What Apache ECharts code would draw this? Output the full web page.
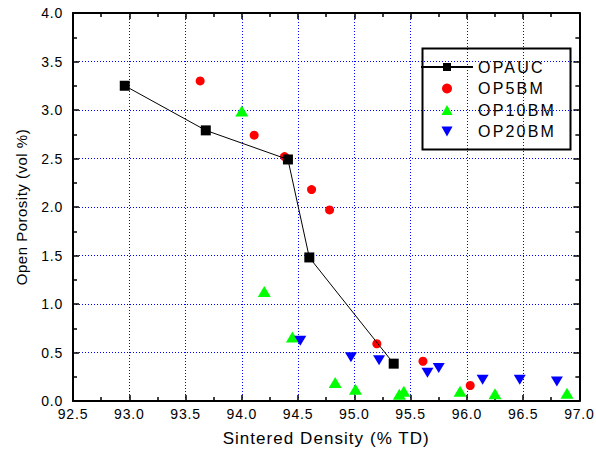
<!DOCTYPE html>
<html>
<head>
<meta charset="utf-8">
<script src="https://cdn.jsdelivr.net/npm/echarts@6/dist/echarts.min.js"></script>
<style>
  html, body { margin: 0; padding: 0; background: #fff; }
  #chart { width: 596px; height: 455px; }
  #chart text { letter-spacing: 0.8px; }
  #chart text[style*="15px"] { letter-spacing: 0.5px; }
  #chart text[style*="16px"] { letter-spacing: 2.2px; }
  #chart text[style*="17px"] { letter-spacing: 1.05px; }
</style>
</head>
<body>
<div id="chart"></div>
<script>
// ---- data ----
const xTicks = [92.5, 93.0, 93.5, 94.0, 94.5, 95.0, 95.5, 96.0, 96.5, 97.0];
const yTicks = [0.0, 0.5, 1.0, 1.5, 2.0, 2.5, 3.0, 3.5, 4.0];

const opaucX = [92.96, 93.68, 94.41, 94.60, 95.35];
const opaucY = [3.25, 2.79, 2.49, 1.48, 0.385];

const op5bmX = [93.63, 94.11, 94.38, 94.62, 94.78, 95.20, 95.61, 96.03];
const op5bmY = [3.30, 2.74, 2.52, 2.18, 1.97, 0.59, 0.41, 0.16];

const op10bmX = [94.00, 94.20, 94.45, 94.83, 95.01, 95.40, 95.44, 95.94, 96.25, 96.89];
const op10bmY = [2.99, 1.13, 0.66, 0.19, 0.12, 0.07, 0.10, 0.10, 0.075, 0.08];

const op20bmX = [94.52, 94.97, 95.22, 95.65, 95.75, 96.14, 96.47, 96.80];
const op20bmY = [0.62, 0.45, 0.42, 0.29, 0.34, 0.22, 0.22, 0.20];

const seriesNames = ['OPAUC', 'OP5BM', 'OP10BM', 'OP20BM'];

const pairs = (xs, ys) => xs.map((x, i) => [x, ys[i]]);

const FONT = 'Liberation Sans, Arial, sans-serif';
const TRI_UP = 'path://M5,0 L10,9 L0,9 Z';
const TRI_DOWN = 'path://M0,0 L10,0 L5,9 Z';
const chart = echarts.init(document.getElementById('chart'), null, { renderer: 'svg' });

const baseAxis = {
  axisLine: { show: true, onZero: false, lineStyle: { color: '#000', width: 2 } },
  axisTick: { show: true, inside: true, length: 6, lineStyle: { color: '#000', width: 1.5 } },
  minorTick: { show: true, splitNumber: 2, length: 4, lineStyle: { color: '#000', width: 1.5 } },
};

chart.setOption({
  animation: false,
  backgroundColor: '#fff',
  textStyle: { fontFamily: FONT },
  grid: { left: 73, right: 15, top: 13, bottom: 54 },
  xAxis: [
    Object.assign({}, baseAxis, {
      type: 'value', position: 'bottom',
      min: xTicks[0], max: xTicks[xTicks.length - 1], interval: 0.5,
      name: 'Sintered Density (% TD)', nameLocation: 'middle', nameGap: 29,
      nameTextStyle: { fontSize: 17, color: '#000', fontFamily: FONT },
      axisLabel: { show: true, margin: 6, fontSize: 14, color: '#000', fontFamily: FONT,
        formatter: v => v.toFixed(1) },
      splitLine: { show: true, lineStyle: { color: '#0000ff', width: 1, type: [1, 2] } },
    }),
    Object.assign({}, baseAxis, {
      type: 'value', position: 'top',
      min: xTicks[0], max: xTicks[xTicks.length - 1], interval: 0.5,
      axisLabel: { show: false }, splitLine: { show: false },
    })
  ],
  yAxis: [
    Object.assign({}, baseAxis, {
      type: 'value', position: 'left',
      min: yTicks[0], max: yTicks[yTicks.length - 1], interval: 0.5,
      name: 'Open Porosity (vol %)', nameLocation: 'middle', nameGap: 44,
      nameTextStyle: { fontSize: 15, color: '#000', fontFamily: FONT },
      axisLabel: { show: true, margin: 10, fontSize: 14, color: '#000', fontFamily: FONT,
        formatter: v => v.toFixed(1) },
      splitLine: { show: true, lineStyle: { color: '#0000ff', width: 1, type: [1, 2] } },
    }),
    Object.assign({}, baseAxis, {
      type: 'value', position: 'right',
      min: yTicks[0], max: yTicks[yTicks.length - 1], interval: 0.5,
      axisLabel: { show: false }, splitLine: { show: false },
    })
  ],
  legend: {
    orient: 'vertical', left: 420, top: 59,
    itemWidth: 52, itemHeight: 10, itemGap: 5.5,
    padding: 0,
    textStyle: { fontSize: 16, color: '#000', fontFamily: FONT },
    data: seriesNames,
  },
  graphic: [{
    type: 'rect', left: 420, top: 46, z: 100,
    shape: { width: 148, height: 101 },
    style: { fill: 'none', stroke: '#000', lineWidth: 2 }
  }],
  series: [
    {
      name: seriesNames[0], type: 'line', data: pairs(opaucX, opaucY),
      symbol: 'rect', symbolSize: 10,
      itemStyle: { color: '#000' }, lineStyle: { color: '#000', width: 1 },
      z: 3
    },
    {
      name: seriesNames[1], type: 'scatter', data: pairs(op5bmX, op5bmY),
      symbol: 'circle', symbolSize: 9, itemStyle: { color: '#ff0000', opacity: 1 }, z: 2
    },
    {
      name: seriesNames[2], type: 'scatter', data: pairs(op10bmX, op10bmY),
      symbol: TRI_UP, symbolSize: [13, 11], itemStyle: { color: '#00ff00', opacity: 1 }, z: 2
    },
    {
      name: seriesNames[3], type: 'scatter', data: pairs(op20bmX, op20bmY),
      symbol: TRI_DOWN, symbolSize: [12, 10], itemStyle: { color: '#0000ff', opacity: 1 }, z: 2
    }
  ]
});
</script>
</body>
</html>
